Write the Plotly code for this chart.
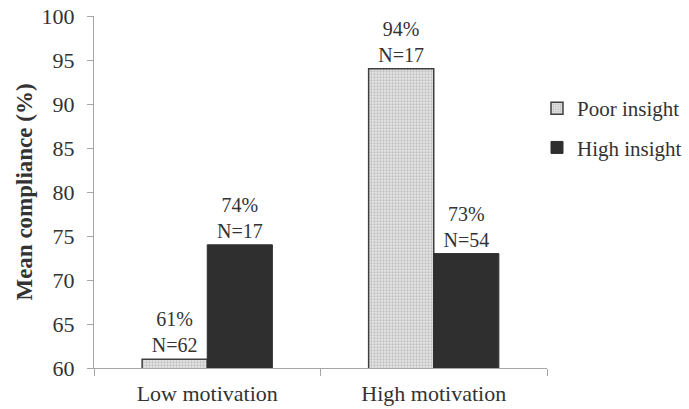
import plotly.graph_objects as go

categories = ["Low motivation", "High motivation"]
poor_values = [61, 94]
high_values = [74, 73]
poor_n = [62, 17]
high_n = [17, 54]

def labels(vals, ns):
    return [f"{v}%<br>N={n}" for v, n in zip(vals, ns)]

font = "Liberation Serif"
fig = go.Figure()
fig.add_trace(go.Bar(
    x=categories, y=poor_values, name="Poor insight",
    text=labels(poor_values, poor_n), textposition="outside",
    textfont=dict(size=20, color="#333333", family=font),
    marker=dict(color="#d4d4d4", line=dict(color="#404040", width=1.5),
                pattern=dict(shape=".", size=3, solidity=0.45, fgcolor="#9a9a9a", bgcolor="#e6e6e6")),
    cliponaxis=False, legendgroup="a",
))
fig.add_trace(go.Bar(
    x=categories, y=high_values, name="High insight",
    text=labels(high_values, high_n), textposition="outside",
    textfont=dict(size=20, color="#333333", family=font),
    marker=dict(color="#2f2f2f", line=dict(color="#2f2f2f", width=1)),
    cliponaxis=False, legendgroup="b",
))
fig.update_layout(
    width=689, height=409, barmode="group", bargap=0.425, bargroupgap=0,
    margin=dict(l=94, r=142, t=16, b=41, autoexpand=False),
    paper_bgcolor="white", plot_bgcolor="white",
    font=dict(family=font, size=18, color="#333333"),
    showlegend=True,
    legend=dict(xref="container", yref="container", x=537/689, y=1-128/409,
                xanchor="left", yanchor="middle",
                font=dict(size=21, family=font, color="#333333"),
                tracegroupgap=9, itemwidth=30),
)
fig.update_yaxes(range=[60, 100], dtick=5, showgrid=False, showline=True,
                 linecolor="#a6a6a6", linewidth=1, ticks="outside", ticklen=6,
                 tickcolor="#a6a6a6", tickfont=dict(size=22, family=font, color="#333333"),
                 ticklabelstandoff=8,
                 title=dict(text="<b>Mean compliance (%)</b>", font=dict(size=23, family=font, color="#333333"), standoff=2),
                 zeroline=False, automargin=False)
fig.update_xaxes(showline=True, linecolor="#a6a6a6", linewidth=1, ticks="outside",
                 tickson="boundaries", ticklen=7, tickcolor="#a6a6a6",
                 ticklabelstandoff=6,
                 tickfont=dict(size=22, family=font, color="#333333"), showgrid=False,
                 automargin=False)
fig.write_html("out.html")
